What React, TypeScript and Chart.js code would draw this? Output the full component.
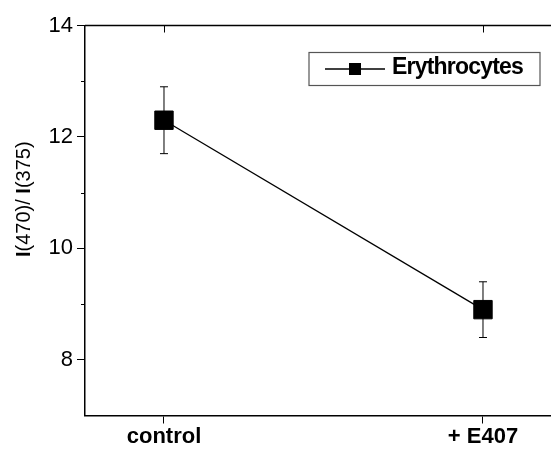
import React, { useEffect, useRef } from 'react';
import { Chart, registerables } from 'chart.js';

Chart.register(...registerables);

// ---- data ----
const categories = ['control', '+ E407'];
const seriesLabel = 'Erythrocytes';
const values = [12.3, 8.9];
const errors = [0.6, 0.5];
const yTicks = [8, 10, 12, 14];
const yMinorTicks = [9, 11, 13];
const yMin = 7;
const yMax = 14;
const xMin = -0.2476;
const xMax = 1.2132;
const yTitleParts: [string, boolean][] = [
  ['I', true],
  ['(470)/ ', false],
  ['I', true],
  ['(375)', false],
];

const FONT = '"Liberation Sans", Arial, Helvetica, sans-serif';

const errorBarPlugin = {
  id: 'errorBars',
  beforeDatasetsDraw(chart: any) {
    const { ctx, scales } = chart;
    const xs = scales.x;
    const ys = scales.y;
    ctx.save();
    ctx.strokeStyle = '#000';
    ctx.lineWidth = 1;
    values.forEach((v, i) => {
      const x = xs.getPixelForValue(i);
      const yt = ys.getPixelForValue(v + errors[i]);
      const yb = ys.getPixelForValue(v - errors[i]);
      ctx.beginPath();
      ctx.moveTo(x, yt);
      ctx.lineTo(x, yb);
      ctx.moveTo(x - 4, yt);
      ctx.lineTo(x + 4, yt);
      ctx.moveTo(x - 4, yb);
      ctx.lineTo(x + 4, yb);
      ctx.stroke();
    });
    ctx.restore();
  },
};

const framePlugin = {
  id: 'frame',
  afterDraw(chart: any) {
    const { ctx, chartArea, scales } = chart;
    const { left, top } = chartArea;
    ctx.save();
    ctx.strokeStyle = '#000';
    ctx.lineWidth = 1.5;
    ctx.beginPath();
    ctx.moveTo(left, top);
    ctx.lineTo(chart.width, top);
    ctx.stroke();
    ctx.lineWidth = 1;
    ctx.beginPath();
    categories.forEach((_, i) => {
      const x = Math.round(scales.x.getPixelForValue(i)) + 0.5;
      ctx.moveTo(x, top);
      ctx.lineTo(x, top + 7);
    });
    yMinorTicks.forEach((v) => {
      const y = Math.round(scales.y.getPixelForValue(v)) + 0.5;
      ctx.moveTo(left - 4, y);
      ctx.lineTo(left, y);
    });
    ctx.stroke();
    ctx.restore();
  },
};

const legendPlugin = {
  id: 'boxLegend',
  afterDraw(chart: any) {
    const { ctx, chartArea } = chart;
    const lx = chartArea.left + 224;
    const ly = chartArea.top + 27;
    const w = 231;
    const h = 33;
    const cy = ly + 16.5;
    ctx.save();
    ctx.strokeStyle = '#555';
    ctx.lineWidth = 1.2;
    ctx.strokeRect(lx, ly, w, h);
    ctx.strokeStyle = '#000';
    ctx.lineWidth = 1.5;
    ctx.beginPath();
    ctx.moveTo(lx + 16, cy);
    ctx.lineTo(lx + 76, cy);
    ctx.stroke();
    ctx.fillStyle = '#000';
    ctx.fillRect(lx + 40, cy - 6, 12, 12);
    ctx.font = `bold 23px ${FONT}`;
    (ctx as any).letterSpacing = '-0.8px';
    ctx.textBaseline = 'middle';
    ctx.textAlign = 'left';
    ctx.fillText(chart.data.datasets[0].label, lx + 83, cy - 1.5);
    ctx.restore();
  },
};

const yTitlePlugin = {
  id: 'yTitle',
  afterDraw(chart: any) {
    const { ctx } = chart;
    ctx.save();
    ctx.translate(24.5, 257);
    ctx.rotate(-Math.PI / 2);
    ctx.fillStyle = '#000';
    ctx.textBaseline = 'middle';
    ctx.textAlign = 'left';
    let x = 0;
    yTitleParts.forEach(([t, bold]) => {
      ctx.font = `${bold ? 'bold ' : ''}20px ${FONT}`;
      ctx.fillText(t, x, 0);
      x += ctx.measureText(t).width;
    });
    ctx.restore();
  },
};

export default function App() {
  const ref = useRef<HTMLCanvasElement>(null);
  useEffect(() => {
    document.documentElement.style.overflow = 'hidden';
    document.body.style.overflow = 'hidden';
    const canvas = ref.current;
    if (!canvas) return;
    const chart = new Chart(canvas, {
      type: 'line',
      data: {
        datasets: [
          {
            label: seriesLabel,
            data: values.map((v, i) => ({ x: i, y: v })),
            borderColor: '#000',
            borderWidth: 1.3,
            pointStyle: 'rect',
            pointRadius: 13,
            pointHoverRadius: 13,
            pointBackgroundColor: '#000',
            pointBorderColor: '#000',
            pointBorderWidth: 1,
            fill: false,
            tension: 0,
          },
        ],
      },
      options: {
        animation: false,
        responsive: false,
        devicePixelRatio: 1,
        layout: { autoPadding: false, padding: { left: 0, right: 0, top: 25.5, bottom: 0 } },
        plugins: {
          legend: { display: false },
          tooltip: { enabled: false },
        },
        scales: {
          x: {
            type: 'linear',
            min: xMin,
            max: xMax,
            afterBuildTicks: (axis: any) => {
              axis.ticks = categories.map((_, i) => ({ value: i }));
            },
            afterFit: (axis: any) => {
              axis.height = 34.5;
              axis.paddingLeft = 0;
              axis.paddingRight = 0;
            },
            ticks: {
              autoSkip: false,
              maxRotation: 0,
              padding: 0,
              color: '#000',
              font: { family: FONT, size: 22, weight: 'bold' },
              callback: (v: any) => categories[v] ?? '',
            },
            grid: {
              display: true,
              drawOnChartArea: false,
              drawTicks: true,
              tickLength: 8,
              color: '#000',
              lineWidth: 1,
            },
            border: { display: true, color: '#000', width: 1.5 },
          },
          y: {
            type: 'linear',
            min: yMin,
            max: yMax,
            afterBuildTicks: (axis: any) => {
              axis.ticks = yTicks.map((v) => ({ value: v }));
            },
            afterFit: (axis: any) => {
              axis.width = 85;
              axis.paddingTop = 0;
              axis.paddingBottom = 0;
            },
            ticks: {
              padding: 4,
              color: '#000',
              font: { family: FONT, size: 22 },
              callback: (v: any) => String(v),
            },
            grid: {
              display: true,
              drawOnChartArea: false,
              drawTicks: true,
              tickLength: 8,
              color: '#000',
              lineWidth: 1,
            },
            border: { display: true, color: '#000', width: 1.5 },
          },
        },
      } as any,
      plugins: [errorBarPlugin, framePlugin, legendPlugin, yTitlePlugin],
    });
    return () => chart.destroy();
  }, []);
  return (
    <div style={{ position: 'fixed', left: 0, top: 0, width: 551, height: 450, background: '#fff' }}>
      <canvas ref={ref} width={551} height={450} style={{ display: 'block' }} />
    </div>
  );
}
